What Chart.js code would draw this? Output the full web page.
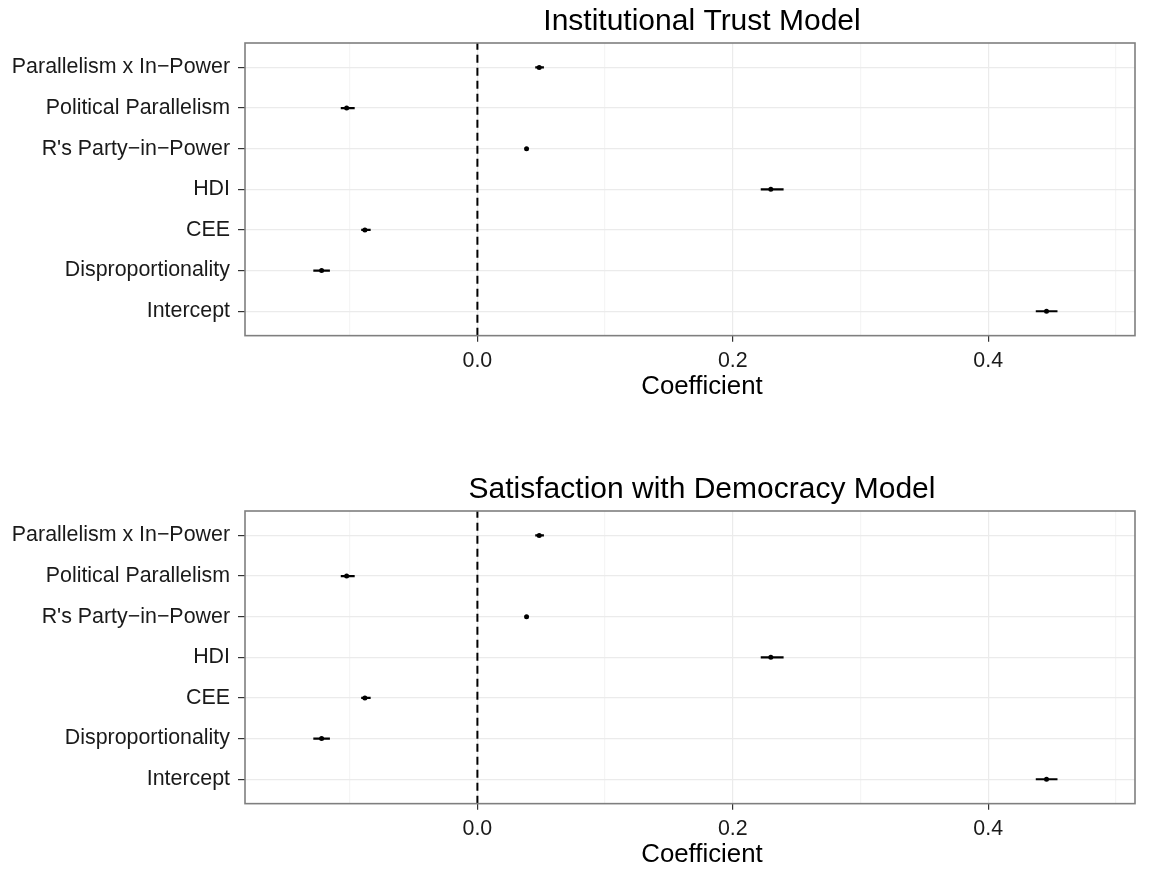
<!DOCTYPE html>
<html>
<head>
<meta charset="utf-8">
<script src="https://cdn.jsdelivr.net/npm/chart.js@4/dist/chart.umd.min.js"></script>
<style>
  html, body { margin: 0; padding: 0; background: #fff; }
  body { width: 1151px; height: 871px; position: relative; overflow: hidden; }
  canvas { position: absolute; left: 0; }
  #trustChart { top: 0; }
  #satChart { top: 468px; }
</style>
</head>
<body>
<canvas id="trustChart" width="1151" height="412"></canvas>
<canvas id="satChart" width="1151" height="412"></canvas>
<script>
// categories, bottom to top
var labels = ["Intercept", "Disproportionality", "CEE", "HDI",
              "R's Party\u2212in\u2212Power", "Political Parallelism", "Parallelism x In\u2212Power"];

// Institutional trust model
var trustEst = [0.4457, -0.1220, -0.0881, 0.2298, 0.0385, -0.1024, 0.0484];
var trustLo  = [0.4373, -0.1285, -0.0910, 0.2219, 0.0376, -0.1070, 0.0453];
var trustHi  = [0.4543, -0.1155, -0.0836, 0.2398, 0.0394, -0.0961, 0.0521];

// Satisfaction with democracy model
var satEst = [0.4457, -0.1220, -0.0881, 0.2298, 0.0385, -0.1024, 0.0484];
var satLo  = [0.4373, -0.1285, -0.0910, 0.2219, 0.0376, -0.1070, 0.0453];
var satHi  = [0.4543, -0.1155, -0.0836, 0.2398, 0.0394, -0.0961, 0.0521];

var xTicks = [-0.1, 0, 0.1, 0.2, 0.3, 0.4, 0.5];
var xMajor = [0, 0.2, 0.4];
var xTitle = 'Coefficient';

var FONT = "'Liberation Sans', Arial, sans-serif";
Chart.defaults.font.family = FONT;

function isMajor(v) {
    return xMajor.some(function(m) { return Math.abs(m - v) < 1e-9; });
}

// grey frame round the panel, plus titles centred a bit right of the panel middle (as in the original)
var panelBorder = {
    id: 'panelBorder',
    afterLayout: function(chart) {
        if (chart.titleBlock) chart.titleBlock.left += 24;
    },
    afterDraw: function(chart) {
        var a = chart.chartArea, c = chart.ctx;
        c.save();
        c.strokeStyle = '#7f7f7f';
        c.lineWidth = 1.6;
        c.strokeRect(a.left, a.top, a.right - a.left, a.bottom - a.top);
        c.fillStyle = '#000';
        c.font = '25.8px ' + FONT;
        c.textAlign = 'center';
        c.textBaseline = 'middle';
        c.fillText(xTitle, (a.left + a.right) / 2 + 12, a.bottom + 51);
        c.restore();
    }
};

function makeChart(id, title, est, lo, hi) {
    var datasets = [{
        type: 'line',
        data: [{x: 0, y: -0.6}, {x: 0, y: 6.6}],
        borderColor: '#000',
        borderWidth: 2,
        borderDash: [8, 5],
        pointRadius: 0
    }];
    labels.forEach(function(_, i) {
        datasets.push({
            type: 'line',
            data: [{x: lo[i], y: i}, {x: hi[i], y: i}],
            borderColor: '#000',
            borderWidth: 2.2,
            pointRadius: 0
        });
    });
    datasets.push({
        data: est.map(function(v, i) { return {x: v, y: i}; }),
        backgroundColor: '#000',
        borderWidth: 0,
        pointRadius: 2.5
    });

    return new Chart(document.getElementById(id).getContext('2d'), {
        type: 'scatter',
        data: { datasets: datasets },
        plugins: [panelBorder],
        options: {
            responsive: false,
            animation: false,
            devicePixelRatio: 1,
            layout: { padding: { left: 0, right: 16, top: 0, bottom: 0 } },
            plugins: {
                legend: { display: false },
                tooltip: { enabled: false },
                title: {
                    display: true,
                    text: title,
                    fullSize: false,
                    color: '#000',
                    font: { size: 30, weight: 'normal' },
                    padding: { top: 4, bottom: 3 }
                }
            },
            scales: {
                x: {
                    type: 'linear',
                    min: -0.182,
                    max: 0.515,
                    afterBuildTicks: function(s) {
                        s.ticks = xTicks.map(function(v) { return {value: v}; });
                    },
                    ticks: {
                        autoSkip: false,
                        maxRotation: 0,
                        padding: 9,
                        color: '#1a1a1a',
                        font: { size: 21.4, lineHeight: 1.0 },
                        callback: function(v) { return isMajor(v) ? v.toFixed(1) : ''; }
                    },
                    grid: {
                        lineWidth: 1.2,
                        tickLength: 6,
                        color: function(c) {
                            return c.tick && isMajor(c.tick.value) ? '#ebebeb' : '#f5f5f5';
                        },
                        tickColor: function(c) {
                            return c.tick && isMajor(c.tick.value) ? '#333' : 'rgba(0,0,0,0)';
                        }
                    },
                    border: { display: false },
                    title: {
                        // space kept here, text drawn by panelBorder
                        display: true,
                        text: xTitle,
                        color: 'rgba(0,0,0,0)',
                        font: { size: 25.8 },
                        padding: { top: 0, bottom: 0 }
                    }
                },
                y: {
                    type: 'linear',
                    min: -0.6,
                    max: 6.6,
                    afterBuildTicks: function(s) {
                        s.ticks = labels.map(function(_, i) { return {value: i}; });
                    },
                    afterFit: function(s) { s.width = 245; },
                    ticks: {
                        autoSkip: false,
                        padding: 8,
                        color: '#1a1a1a',
                        font: { size: 21.4 },
                        callback: function(v) { return labels[v]; }
                    },
                    grid: {
                        lineWidth: 1.2,
                        color: '#ebebeb',
                        tickColor: '#333',
                        tickLength: 7
                    },
                    border: { display: false }
                }
            }
        }
    });
}

makeChart('trustChart', 'Institutional Trust Model', trustEst, trustLo, trustHi);
makeChart('satChart', 'Satisfaction with Democracy Model', satEst, satLo, satHi);
</script>
</body>
</html>
